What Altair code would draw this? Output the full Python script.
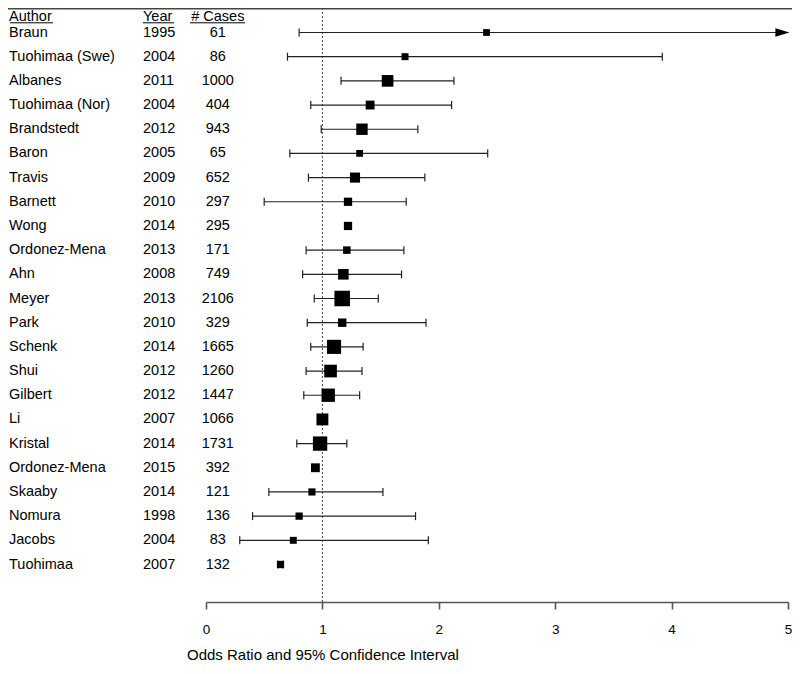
import altair as alt
import pandas as pd

authors = ["Braun", "Tuohimaa (Swe)", "Albanes", "Tuohimaa (Nor)", "Brandstedt", "Baron",
           "Travis", "Barnett", "Wong", "Ordonez-Mena", "Ahn", "Meyer", "Park", "Schenk",
           "Shui", "Gilbert", "Li", "Kristal", "Ordonez-Mena", "Skaaby", "Nomura", "Jacobs",
           "Tuohimaa"]
years = [1995, 2004, 2011, 2004, 2012, 2005, 2009, 2010, 2014, 2013, 2008, 2013, 2010,
         2014, 2012, 2012, 2007, 2014, 2015, 2014, 1998, 2004, 2007]
cases = [61, 86, 1000, 404, 943, 65, 652, 297, 295, 171, 749, 2106, 329, 1665, 1260,
         1447, 1066, 1731, 392, 121, 136, 83, 132]
odds = [2.41, 1.71, 1.56, 1.41, 1.34, 1.32, 1.28, 1.22, 1.22, 1.21, 1.18, 1.17, 1.17,
        1.10, 1.07, 1.05, 1.00, 0.98, 0.94, 0.91, 0.80, 0.75, 0.64]
lower = [0.80, 0.70, 1.16, 0.90, 0.99, 0.72, 0.88, 0.50, 1.20, 0.86, 0.83, 0.93, 0.87,
         0.90, 0.86, 0.84, 0.98, 0.78, 0.92, 0.54, 0.40, 0.29, 0.62]
upper = [6.00, 3.92, 2.13, 2.11, 1.82, 2.42, 1.88, 1.72, 1.24, 1.70, 1.68, 1.48, 1.89,
         1.35, 1.34, 1.32, 1.03, 1.21, 0.96, 1.52, 1.80, 1.91, 0.66]
headers = ["Author", "Year", "# Cases"]
x_ticks = [0, 1, 2, 3, 4, 5]
x_title = "Odds Ratio and 95% Confidence Interval"
x_max = 5

df = pd.DataFrame({
    "row": list(range(len(authors))),
    "author": authors,
    "year": years,
    "cases": cases,
    "odds": odds,
    "lower": lower,
    "upper": upper,
})
one = pd.DataFrame({"k": [0]})

FONT = "Liberation Sans"
FS = 14.5
W, H = 778, 594
PR, PB = 6, 60

xs = alt.Scale(domain=[0, x_max], range=[198, 780], nice=False, zero=False)
ys = alt.Scale(domain=[0, len(authors) - 1], range=[24.5, 556.5], nice=False, zero=False)
x_axis = alt.Axis(values=x_ticks, format="d", title=None, grid=False,
                  domainColor="#555", domainWidth=1.6, tickColor="#555", tickWidth=1.6,
                  tickSize=7, labelFont=FONT, labelFontSize=13.5, labelColor="black",
                  labelPadding=13, labelFlush=False)
Y = alt.Y("row:Q", scale=ys, axis=None)

base = alt.Chart(df).transform_calculate(hi=f"min(datum.upper, {x_max})")

ref = alt.Chart(one).mark_rule(color="#444", strokeDash=[2, 2], strokeWidth=1).encode(
    x=alt.datum(1, scale=xs), y=alt.value(0), y2=alt.value(H))

ci = base.mark_rule(color="#222", strokeWidth=1.2).encode(
    x=alt.X("lower:Q", scale=xs, axis=x_axis), x2="hi:Q", y=Y)

cap_lo = base.mark_tick(orient="vertical", size=8, thickness=1.2, color="#222", opacity=1).encode(
    x=alt.X("lower:Q", scale=xs, axis=x_axis), y=Y)

cap_hi = base.transform_filter(f"datum.upper <= {x_max}").mark_tick(
    orient="vertical", size=8, thickness=1.2, color="#222", opacity=1).encode(
    x=alt.X("upper:Q", scale=xs, axis=x_axis), y=Y)

arrow = base.transform_filter(f"datum.upper > {x_max}").mark_point(
    shape="M -1.8 -0.6 L 0.2 0 L -1.8 0.6 Z", filled=True, size=196, color="black",
    opacity=1, strokeWidth=0).encode(
    x=alt.X("hi:Q", scale=xs, axis=x_axis), y=Y)

squares = base.mark_square(color="black", opacity=1).encode(
    x=alt.X("odds:Q", scale=xs, axis=x_axis), y=Y,
    size=alt.Size("cases:Q", scale=alt.Scale(domain=[0, 2200], range=[40, 250]), legend=None))

txt = dict(font=FONT, fontSize=FS, color="black", baseline="middle")
author_t = base.mark_text(align="left", **txt).encode(x=alt.value(1), y=Y, text="author:N")
year_t = base.mark_text(align="left", **txt).encode(x=alt.value(135), y=Y,
                                                   text=alt.Text("year:Q", format="d"))
cases_t = base.mark_text(align="center", **txt).encode(x=alt.value(209.8), y=Y,
                                                      text=alt.Text("cases:Q", format="d"))

HY = 8.5
h1 = alt.Chart(one).mark_text(align="left", **txt).encode(
    x=alt.value(1), y=alt.value(HY), text=alt.value(headers[0]))
h2 = alt.Chart(one).mark_text(align="left", **txt).encode(
    x=alt.value(135), y=alt.value(HY), text=alt.value(headers[1]))
h3 = alt.Chart(one).mark_text(align="center", **txt).encode(
    x=alt.value(209.8), y=alt.value(HY), text=alt.value(headers[2]))

UY = 14.8
ul = [alt.Chart(one).mark_rule(color="black", strokeWidth=1).encode(
    x=alt.value(a), x2=alt.value(b), y=alt.value(UY))
    for a, b in [(2, 45), (135, 166), (182, 237)]]

top = alt.Chart(one).mark_rule(color="#444", strokeWidth=1.6).encode(
    x=alt.value(0), x2=alt.value(W + PR), y=alt.value(0.8))

title_t = alt.Chart(one).mark_text(align="left", font=FONT, fontSize=15, color="black",
                                   baseline="middle").encode(
    x=alt.value(179), y=alt.value(647), text=alt.value(x_title))

chart = alt.layer(
    ref, ci, cap_lo, cap_hi, arrow, squares, author_t, year_t, cases_t,
    h1, h2, h3, *ul, top, title_t
).properties(
    width=W, height=H, autosize="none",
    padding={"left": 0, "right": PR, "top": 0, "bottom": PB},
).configure_view(stroke=None)

chart.save("out.html", embed_options={"renderer": "svg", "actions": False})
